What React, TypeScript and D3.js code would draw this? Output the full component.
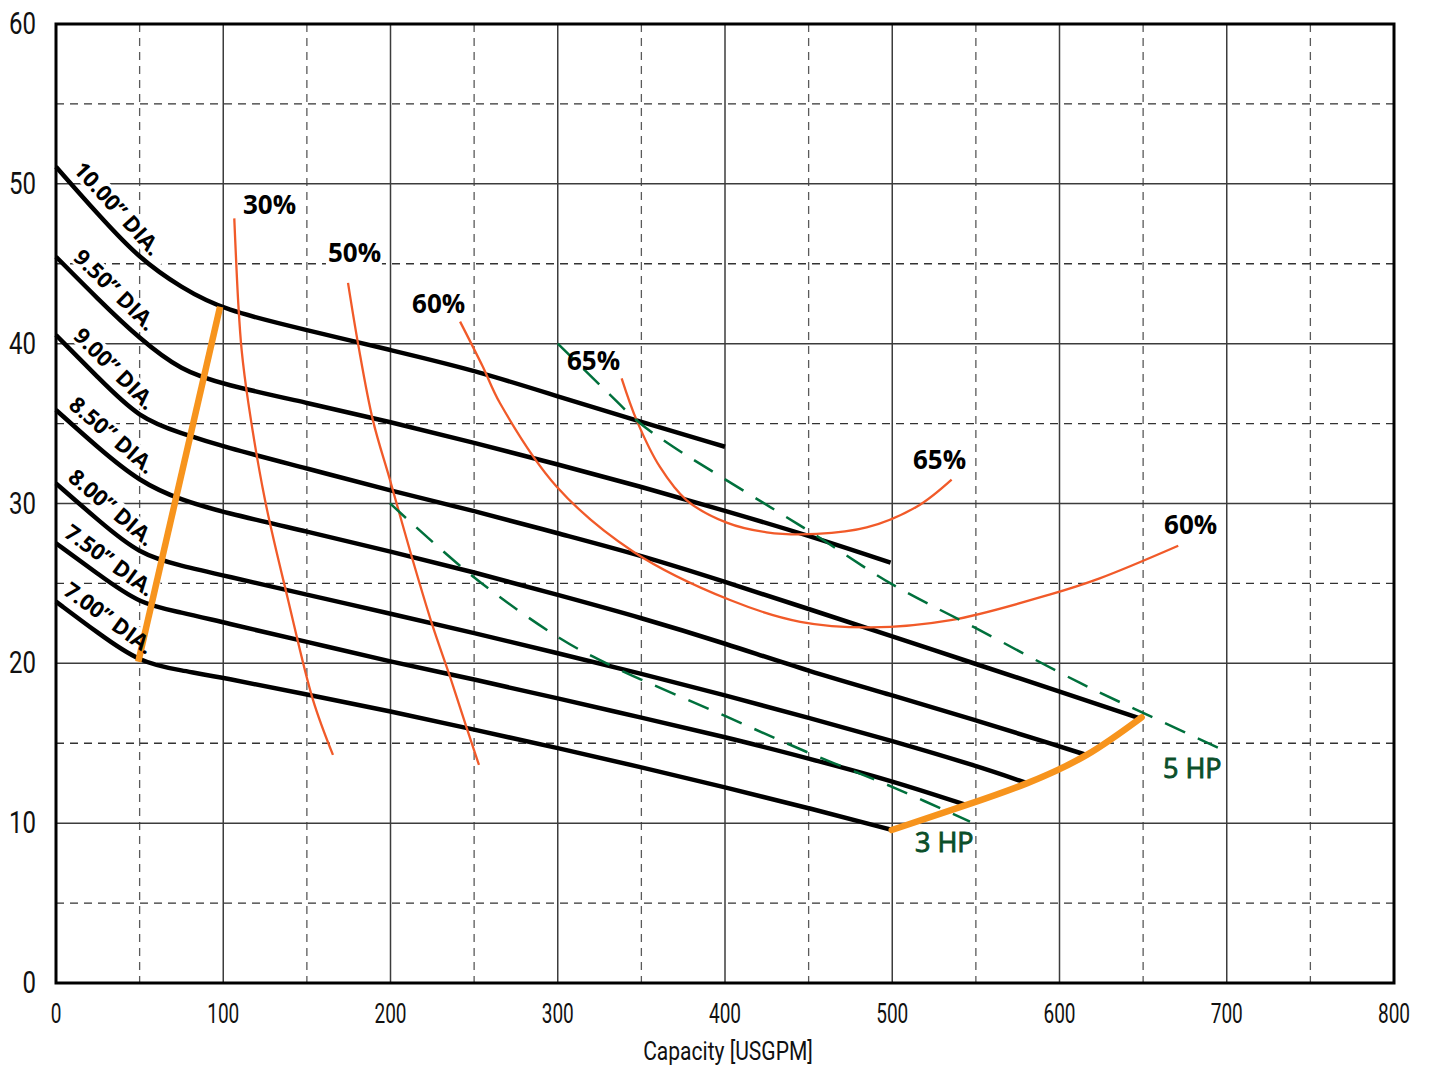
import React from 'react';
import * as d3 from 'd3';

const W = 1430;
const H = 1068;

// tick values
const xMajorTicks = [0, 100, 200, 300, 400, 500, 600, 700, 800];
const xMinorTicks = [50, 150, 250, 350, 450, 550, 650, 750];
const yMajorTicks = [0, 10, 20, 30, 40, 50, 60];
const yMinorTicks = [5, 15, 25, 35, 45, 55];
const xTitle = 'Capacity [USGPM]';

// impeller head curves [GPM, head ft]
const dia1000: [number, number][] = [[0, 51.07], [25, 48.1], [50, 45.3], [75, 43.5], [100, 42.1], [150, 40.85], [200, 39.6], [250, 38.35], [300, 36.7], [350, 35.1], [400, 33.55]];
const dia950: [number, number][] = [[0, 45.44], [25, 42.8], [50, 40.3], [75, 38.3], [100, 37.45], [150, 36.3], [200, 35.1], [250, 33.8], [300, 32.45], [350, 31.05], [400, 29.55], [450, 28.0], [499, 26.3]];
const dia900: [number, number][] = [[0, 40.54], [25, 37.9], [50, 35.3], [75, 34.4], [100, 33.55], [150, 32.2], [200, 30.8], [250, 29.55], [300, 28.13], [350, 26.75], [400, 25.1], [450, 23.4], [500, 21.7], [550, 19.95], [600, 18.25], [648, 16.56]];
const dia850: [number, number][] = [[0, 35.85], [25, 33.5], [50, 31.35], [75, 30.2], [100, 29.45], [150, 28.25], [200, 27.0], [250, 25.7], [300, 24.28], [350, 22.85], [400, 21.25], [450, 19.5], [500, 18.0], [550, 16.45], [600, 14.8], [616, 14.27]];
const dia800: [number, number][] = [[0, 31.26], [25, 28.97], [50, 26.8], [75, 26.1], [100, 25.5], [150, 24.3], [200, 23.1], [250, 21.9], [300, 20.63], [350, 19.35], [400, 18.0], [450, 16.6], [500, 15.15], [550, 13.6], [581, 12.49]];
const dia750: [number, number][] = [[0, 27.51], [25, 25.6], [50, 23.7], [75, 23.2], [100, 22.55], [150, 21.35], [200, 20.1], [250, 19.0], [300, 17.81], [350, 16.6], [400, 15.4], [450, 14.05], [500, 12.65], [544, 11.14]];
const dia700: [number, number][] = [[0, 23.86], [25, 21.9], [50, 20.05], [75, 19.55], [100, 19.1], [150, 18.05], [200, 17.0], [250, 15.85], [300, 14.7], [350, 13.5], [400, 12.25], [450, 10.95], [500, 9.57]];

const impellerCurves = [dia1000, dia950, dia900, dia850, dia800, dia750, dia700];
const impellerLabels = ['10.00” DIA.', '9.50” DIA.', '9.00” DIA.', '8.50” DIA.', '8.00” DIA.', '7.50” DIA.', '7.00” DIA.'];
const impellerLabelGpm = [5.5, 5.5, 5.5, 3, 2.5, 0.5, 0];

// efficiency curves
const eff30: [number, number][] = [[106.6, 47.84], [109, 42.5], [111, 39.6], [115, 36.3], [125, 30.2], [138.7, 24.0], [153.7, 17.7], [165.6, 14.27]];
const eff50: [number, number][] = [[174.6, 43.8], [180.6, 40.0], [189.5, 35.2], [199.7, 31.47], [212.7, 26.67], [224.7, 22.5], [235.6, 19.16], [245.6, 15.94], [252.9, 13.64]];
const eff60: [number, number][] = [[241.6, 41.38], [255, 38.6], [265.5, 36.27], [299.4, 31.05], [345, 27.0], [403, 23.96], [445, 22.6], [487, 22.25], [535, 22.7], [594, 24.3], [624, 25.32], [671, 27.36]];
const eff65: [number, number][] = [[338.2, 37.83], [347.2, 35.2], [361, 32.3], [377.1, 30.2], [401, 28.8], [424.9, 28.2], [454.8, 28.1], [484.7, 28.5], [514.6, 29.8], [535.5, 31.5]];
const effCurves = [eff30, eff50, eff60, eff65];
const effLabels = ['30%', '50%', '60%', '65%', '65%', '60%'];
const effLabelAt: [number, number][] = [[111.8, 48.1], [162.6, 45.1], [212.9, 41.9], [305.5, 38.35], [512.4, 32.16], [662.5, 28.1]];

// horsepower lines
const hp3: [number, number][] = [[199.7, 30.01], [249.5, 25.42], [301.3, 21.57], [333.2, 19.79], [401, 16.66], [450.8, 14.37], [500.6, 12.24], [546.5, 10.09]];
const hp5: [number, number][] = [[300, 40.0], [329.3, 37.0], [349.2, 35.02], [369, 33.55], [391, 32.1], [433, 29.39], [454, 28.03], [499, 25.0], [550, 22.2], [612, 18.79], [657, 16.56], [700, 14.47]];
const hpCurves = [hp3, hp5];
const hpLabels = ['3 HP', '5 HP'];
const hpLabelAt: [number, number][] = [[513.6, 8.2], [661.9, 12.83]];

// operating limits
const minFlow: [number, number][] = [[49.2, 20.1], [98.1, 42.31]];
const maxFlow: [number, number][] = [[499.7, 9.57], [544.5, 11.14], [580.4, 12.49], [616.3, 14.27], [649.1, 16.62]];

const x = d3.scaleLinear().domain([0, 800]).range([56, 1394]);
const y = d3.scaleLinear().domain([0, 60]).range([983, 24]);

const lineBasis = d3.line<[number, number]>().x(d => x(d[0])).y(d => y(d[1])).curve(d3.curveBasis);
const lineNatural = d3.line<[number, number]>().x(d => x(d[0])).y(d => y(d[1])).curve(d3.curveNatural);
const lineCR = d3.line<[number, number]>().x(d => x(d[0])).y(d => y(d[1])).curve(d3.curveCatmullRom.alpha(0.5));
const lineStraight = d3.line<[number, number]>().x(d => x(d[0])).y(d => y(d[1]));

function headAt(pts: [number, number][], g: number) {
  for (let i = 0; i < pts.length - 1; i++) {
    if (g >= pts[i][0] && g <= pts[i + 1][0]) {
      const t = (g - pts[i][0]) / (pts[i + 1][0] - pts[i][0]);
      return pts[i][1] + t * (pts[i + 1][1] - pts[i][1]);
    }
  }
  return pts[0][1];
}

const LABEL_FONT = '"Open Sans", "Noto Sans", sans-serif';
const TICK_FONT = 'Roboto, "Noto Sans", sans-serif';

function labelFrame(pts: [number, number][], g: number) {
  const px = x(g), py = y(headAt(pts, g));
  const ang = Math.atan2(y(pts[2][1]) - y(pts[0][1]), x(pts[2][0]) - x(pts[0][0]));
  const deg = (ang * 180) / Math.PI;
  const bx = px + 10 * Math.sin(ang);
  const by = py - 10 * Math.cos(ang);
  return `translate(${bx},${by}) rotate(${deg})`;
}

export default function App() {
  const diaFont = 22;
  return (
    <svg width={W} height={H} style={{ position: 'absolute', left: 0, top: 0, background: '#fff' }}>
      <rect x={0} y={0} width={W} height={H} fill="#fff" />
      {/* grid */}
      <g>
        {xMinorTicks.map(v => (
          <line key={'xm' + v} x1={x(v)} x2={x(v)} y1={y(60)} y2={y(0)} stroke="#5a5a5a" strokeWidth={1.3} strokeDasharray="8,6" />
        ))}
        {yMinorTicks.map(v => (
          <line key={'ym' + v} x1={x(0)} x2={x(800)} y1={y(v)} y2={y(v)} stroke="#333" strokeWidth={1.3} strokeDasharray="8,6" />
        ))}
        {xMajorTicks.map(v => (
          <line key={'xM' + v} x1={x(v)} x2={x(v)} y1={y(60)} y2={y(0)} stroke="#3c3c3c" strokeWidth={1.5} />
        ))}
        {yMajorTicks.map(v => (
          <line key={'yM' + v} x1={x(0)} x2={x(800)} y1={y(v)} y2={y(v)} stroke="#3c3c3c" strokeWidth={1.5} />
        ))}
      </g>

      {/* label backgrounds */}
      {impellerCurves.map((pts, i) => {
        const len = impellerLabels[i].length * diaFont * 0.52;
        return (
          <rect key={'ib' + i} transform={labelFrame(pts, impellerLabelGpm[i])} x={-3} y={-19} width={len + 6} height={22} fill="#fff" />
        );
      })}
      {effLabels.map((t, i) => (
        <rect key={'eb' + i} x={x(effLabelAt[i][0]) - 2} y={y(effLabelAt[i][1]) - 22} width={56} height={26} fill="#fff" />
      ))}

      {/* impeller curves */}
      {impellerCurves.map((pts, i) => (
        <path key={'ic' + i} d={lineBasis(pts) || ''} fill="none" stroke="#000" strokeWidth={4.5} strokeLinejoin="round" />
      ))}

      {/* efficiency curves */}
      {effCurves.map((pts, i) => (
        <path key={'ec' + i} d={lineCR(pts) || ''} fill="none" stroke="#f15a29" strokeWidth={2.3} />
      ))}

      {/* hp lines */}
      {hpCurves.map((pts, i) => (
        <path key={'hc' + i} d={lineCR(pts) || ''} fill="none" stroke="#00703c" strokeWidth={2.5} strokeDasharray="22,14" />
      ))}

      {/* operating limits */}
      <path d={lineStraight(minFlow) || ''} fill="none" stroke="#f7941d" strokeWidth={6.5} />
      <path d={lineNatural(maxFlow) || ''} fill="none" stroke="#f7941d" strokeWidth={6.5} strokeLinecap="round" />

      {/* frame */}
      <rect x={x(0)} y={y(60)} width={x(800) - x(0)} height={y(0) - y(60)} fill="none" stroke="#000" strokeWidth={3} />

      {/* impeller labels */}
      {impellerCurves.map((pts, i) => (
        <text key={'il' + i} transform={labelFrame(pts, impellerLabelGpm[i])} fontFamily={LABEL_FONT} fontWeight={700} fontSize={diaFont} fill="#000">
          {impellerLabels[i]}
        </text>
      ))}

      {/* efficiency labels */}
      {effLabels.map((t, i) => (
        <text key={'el' + i} x={x(effLabelAt[i][0])} y={y(effLabelAt[i][1])} fontFamily={LABEL_FONT} fontWeight={700} fontSize={26} fill="#000">
          {t}
        </text>
      ))}

      {/* hp labels */}
      {hpLabels.map((t, i) => (
        <text key={'hl' + i} x={x(hpLabelAt[i][0])} y={y(hpLabelAt[i][1])} fontFamily={LABEL_FONT} fontWeight={400} fontSize={27} fill="#0b4f2a" stroke="#0b4f2a" strokeWidth={0.9}>
          {t}
        </text>
      ))}

      {/* y tick labels */}
      {yMajorTicks.map(v => (
        <text key={'yt' + v} transform={`translate(36,${y(v) + 10}) scale(0.775,1)`} textAnchor="end" fontFamily={TICK_FONT} fontSize={31} fill="#111">
          {v}
        </text>
      ))}
      {/* x tick labels */}
      {xMajorTicks.map(v => (
        <text key={'xt' + v} transform={`translate(${x(v)},1023) scale(0.68,1)`} textAnchor="middle" fontFamily={TICK_FONT} fontSize={28} fill="#111">
          {v}
        </text>
      ))}
      <text transform={`translate(${(x(0) + x(800)) / 2 + 3},1060) scale(0.81,1)`} textAnchor="middle" fontFamily={TICK_FONT} fontSize={26} fill="#111">
        {xTitle}
      </text>
    </svg>
  );
}
